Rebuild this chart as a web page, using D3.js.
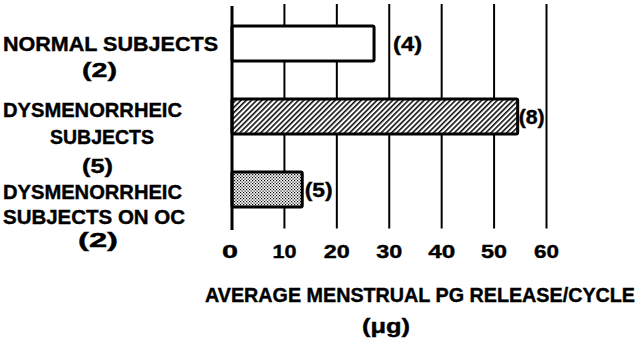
<!DOCTYPE html>
<html>
<head>
<meta charset="utf-8">
<script src="https://cdn.jsdelivr.net/npm/d3@7"></script>
<style>
  html, body { margin: 0; padding: 0; background: #fff; }
  svg { display: block; }
  text { font-family: "Liberation Sans", Arial, sans-serif; font-weight: bold; fill: #000; stroke: #000; stroke-width: 0.4; }
</style>
</head>
<body>
<svg id="chart" width="640" height="345"></svg>
<script>
// Groups and their average menstrual PG release per cycle (µg)
const categories = ["normal", "dysmenorrheic", "dysmenorrheicOC"];
const categoryLines = [
  ["NORMAL SUBJECTS", "(2)"],
  ["DYSMENORRHEIC", "SUBJECTS", "(5)"],
  ["DYSMENORRHEIC", "SUBJECTS ON OC", "(2)"]
];
const pgRelease = [27.1, 54.5, 13.4];
const cycleCounts = ["(4)", "(8)", "(5)"];
const fills = ["white", "url(#hatch)", "url(#stipple)"];
const xTicks = [0, 10, 20, 30, 40, 50, 60];
const xTitle = "AVERAGE MENSTRUAL PG RELEASE/CYCLE";
const xUnit = "(\u03bcg)";

const svg = d3.select("#chart");

// Patterns for the bar fills
const defs = svg.append("defs");
const hatch = defs.append("pattern")
  .attr("id", "hatch").attr("patternUnits", "userSpaceOnUse")
  .attr("width", 3.7).attr("height", 10)
  .attr("patternTransform", "rotate(45)");
hatch.append("rect").attr("width", 3.7).attr("height", 10).attr("fill", "#fff");
hatch.append("line").attr("x1", 0.8).attr("y1", 0).attr("x2", 0.8).attr("y2", 10)
  .attr("stroke", "#000").attr("stroke-width", 1.5);

const stip = defs.append("pattern")
  .attr("id", "stipple").attr("patternUnits", "userSpaceOnUse")
  .attr("width", 3).attr("height", 3);
stip.append("rect").attr("width", 3).attr("height", 3).attr("fill", "#fff");
stip.append("rect").attr("x", 0).attr("y", 0).attr("width", 1.2).attr("height", 1.2).attr("fill", "#000");
stip.append("rect").attr("x", 1.5).attr("y", 1.5).attr("width", 1.2).attr("height", 1.2).attr("fill", "#000");

// Scales
const x = d3.scaleLinear().domain([0, 60]).range([232, 546.5]);
const y = d3.scaleBand().domain(categories).range([7, 226])
  .paddingInner(0.52).paddingOuter(0.26);

// Vertical grid lines at every tick
svg.append("g").selectAll("line")
  .data(xTicks.filter(t => t > 0))
  .join("line")
  .attr("x1", d => x(d)).attr("x2", d => x(d))
  .attr("y1", 4).attr("y2", 228.5)
  .attr("stroke", "#000").attr("stroke-width", 2);

// Bars
svg.append("g").selectAll("rect")
  .data(categories)
  .join("rect")
  .attr("x", x(0))
  .attr("y", d => y(d))
  .attr("width", (d, i) => x(pgRelease[i]) - x(0))
  .attr("height", y.bandwidth())
  .attr("rx", 1.5)
  .attr("fill", (d, i) => fills[i])
  .attr("stroke", "#000").attr("stroke-width", 3);

// Left axis line
svg.append("line")
  .attr("x1", x(0)).attr("x2", x(0)).attr("y1", 6).attr("y2", 230)
  .attr("stroke", "#000").attr("stroke-width", 3);

// Cycle counts next to bars
const countPos = [
  { dx: 19, w: 29 },
  { dx: 1, w: 26 },
  { dx: 2.5, w: 28 }
];
svg.append("g").selectAll("text")
  .data(categories)
  .join("text")
  .attr("x", (d, i) => x(pgRelease[i]) + countPos[i].dx)
  .attr("y", d => y(d) + y.bandwidth() / 2)
  .attr("dy", "0.36em")
  .attr("font-size", 20)
  .attr("textLength", (d, i) => countPos[i].w)
  .attr("lengthAdjust", "spacingAndGlyphs")
  .text((d, i) => cycleCounts[i]);

// Category labels, multi-line
const lineLayout = [
  [{ cx: 110.5, dy: 0, w: 215 }, { cx: 99.5, dy: 26.5, w: 35 }],
  [{ cx: 92.5, dy: -6.5, w: 179 }, { cx: 102, dy: 20.5, w: 104 }, { cx: 97.5, dy: 49.5, w: 31 }],
  [{ cx: 92.5, dy: 2.5, w: 179 }, { cx: 94, dy: 27.5, w: 182 }, { cx: 98, dy: 50.5, w: 40 }]
];
categories.forEach((c, i) => {
  const yc = y(c) + y.bandwidth() / 2;
  svg.append("g").selectAll("text")
    .data(categoryLines[i])
    .join("text")
    .attr("x", (d, j) => lineLayout[i][j].cx)
    .attr("y", (d, j) => yc + lineLayout[i][j].dy)
    .attr("dy", "0.36em")
    .attr("text-anchor", "middle")
    .attr("font-size", 20)
    .attr("textLength", (d, j) => lineLayout[i][j].w)
    .attr("lengthAdjust", "spacingAndGlyphs")
    .text(d => d);
});

// Tick labels under the grid lines
const tickW = [16, 24, 26, 26, 27, 26, 25];
svg.append("g").selectAll("text")
  .data(xTicks)
  .join("text")
  .attr("x", d => x(d) - (d === 0 ? 2 : 0))
  .attr("y", 251)
  .attr("dy", "0.36em")
  .attr("text-anchor", "middle")
  .attr("font-size", 19)
  .attr("textLength", (d, i) => tickW[i])
  .attr("lengthAdjust", "spacingAndGlyphs")
  .text(d => d);

// Axis title
svg.append("text")
  .attr("x", 420).attr("y", 295).attr("dy", "0.36em")
  .attr("text-anchor", "middle")
  .attr("font-size", 20)
  .attr("textLength", 430)
  .attr("lengthAdjust", "spacingAndGlyphs")
  .text(xTitle);

svg.append("text")
  .attr("x", 386).attr("y", 326).attr("dy", "0.36em")
  .attr("text-anchor", "middle")
  .attr("font-size", 20)
  .attr("textLength", 48)
  .attr("lengthAdjust", "spacingAndGlyphs")
  .text(xUnit);
</script>
</body>
</html>
